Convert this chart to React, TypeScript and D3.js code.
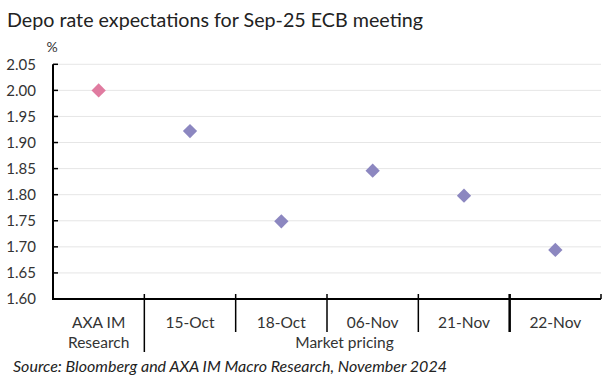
import React from "react";
import * as d3 from "d3";

const categories = ["AXA IM\nResearch", "15-Oct", "18-Oct", "06-Nov", "21-Nov", "22-Nov"];
const values = [2.0, 1.922, 1.749, 1.846, 1.798, 1.694];
const colors = ["#E07BA0", "#8C87C0", "#8C87C0", "#8C87C0", "#8C87C0", "#8C87C0"];
const yTicks = [1.6, 1.65, 1.7, 1.75, 1.8, 1.85, 1.9, 1.95, 2.0, 2.05];
const title = "Depo rate expectations for Sep-25 ECB meeting";
const unit = "%";
const groupLabel = "Market pricing";
const source = "Source: Bloomberg and AXA IM Macro Research, November 2024";

const W = 615, H = 379;
const left = 53, right = 601, top = 64.3, bottom = 299;
const font = "Lato, 'Open Sans', sans-serif";

export default function App() {
  const x = d3.scaleBand<number>().domain(d3.range(categories.length)).range([left, right]);
  const y = d3.scaleLinear().domain([1.6, 2.05]).range([bottom, top]);
  const diamond = d3.symbol().type(d3.symbolDiamond2).size(130)();
  const bw = x.bandwidth();
  return (
    <svg width={W} height={H} style={{ position: "absolute", left: 0, top: 0, background: "#fff" }}>
      <text x={7} y={27} fontFamily={font} fontSize={19.5} fill="#222" textLength={416} lengthAdjust="spacingAndGlyphs">{title}</text>
      <text x={52} y={52} fontFamily={font} fontSize={14} fill="#333" textAnchor="middle">{unit}</text>
      {yTicks.map((t) => (
        <g key={t}>
          {t > 1.6 && <line x1={left} x2={right} y1={y(t)} y2={y(t)} stroke="#e6e6e6" strokeWidth={1} />}
          <line x1={left} x2={left + 5} y1={y(t)} y2={y(t)} stroke="#000" strokeWidth={1.5} />
          <text x={36} y={y(t)} dy="0.35em" fontFamily={font} fontSize={15} fill="#333" textAnchor="end">{t.toFixed(2)}</text>
        </g>
      ))}
      <line x1={left} x2={left} y1={top} y2={bottom} stroke="#000" strokeWidth={2} />
      <line x1={left - 1} x2={right} y1={bottom} y2={bottom} stroke="#000" strokeWidth={2} />
      <line x1={right} x2={right} y1={bottom - 5} y2={bottom} stroke="#000" strokeWidth={1.5} />
      {d3.range(1, categories.length).map((i) => (
        <line key={i} x1={x(i)} x2={x(i)} y1={bottom - 5} y2={i === 1 ? 352 : 332} stroke="#000" strokeWidth={i === 5 ? 2.5 : 1.5} />
      ))}
      {categories.map((c, i) => (
        <text key={c} x={(x(i) as number) + bw / 2} y={323} fontFamily={font} fontSize={15.5} fill="#333" textAnchor="middle">
          {c.split("\n").map((s, j) => (
            <tspan key={j} x={(x(i) as number) + bw / 2} dy={j === 0 ? "0.35em" : 20}>{s}</tspan>
          ))}
        </text>
      ))}
      <text x={344.5} y={343} dy="0.35em" fontFamily={font} fontSize={15.5} fill="#333" textAnchor="middle">{groupLabel}</text>
      {values.map((v, i) => (
        <path key={i} d={diamond as string} transform={`translate(${(x(i) as number) + bw / 2},${y(v)})`} fill={colors[i]} />
      ))}
      <text x={13} y={367} dy="0.35em" fontFamily={font} fontSize={15.5} fontStyle="italic" fill="#222" textLength={434} lengthAdjust="spacingAndGlyphs">{source}</text>
    </svg>
  );
}
